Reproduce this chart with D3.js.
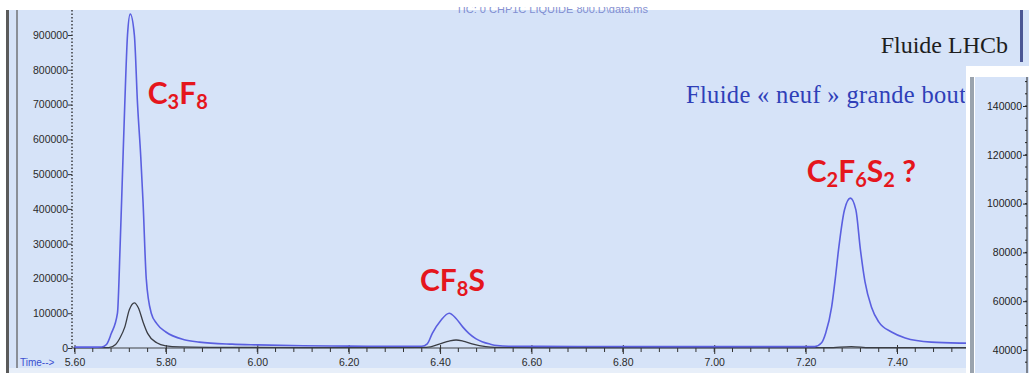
<!DOCTYPE html>
<html>
<head>
<meta charset="utf-8">
<script src="https://cdn.jsdelivr.net/npm/d3@7"></script>
<style>
  html, body { margin: 0; padding: 0; background: #ffffff; }
  svg { display: block; }
  .serif { font-family: "Liberation Serif", "Times New Roman", "DejaVu Serif", serif; }
  .sans { font-family: "Liberation Sans", Arial, sans-serif; }
</style>
</head>
<body>
<svg id="chart" width="1029" height="373"></svg>
<script>
// retention time (min) and abundance
const blueTimes = [5.60, 5.64, 5.66, 5.67, 5.68, 5.694, 5.70, 5.705, 5.71, 5.716, 5.722, 5.731, 5.738, 5.745, 5.750, 5.757, 5.768, 5.78, 5.80, 5.84, 5.873, 5.945, 6.00, 6.10, 6.20, 6.30, 6.36, 6.372, 6.383, 6.402, 6.420, 6.435, 6.450, 6.463, 6.478, 6.492, 6.51, 6.525, 6.55, 6.70, 6.90, 7.10, 7.22, 7.235, 7.244, 7.257, 7.265, 7.272, 7.285, 7.298, 7.31, 7.320, 7.33, 7.344, 7.36, 7.388, 7.418, 7.475, 7.541, 7.58];
const blueValues = [2500, 2500, 3000, 10000, 40000, 100000, 300000, 500000, 700000, 900000, 960000, 900000, 700000, 550000, 420000, 200000, 100000, 70000, 46000, 24000, 17000, 11000, 9000, 6500, 5500, 5000, 5000, 12000, 42000, 80000, 100000, 85000, 60000, 42000, 27000, 18000, 11000, 7000, 5000, 4500, 4000, 4000, 4000, 15000, 43000, 118000, 200000, 282000, 397000, 431000, 397000, 282000, 190000, 118000, 75000, 46000, 29000, 17000, 14000, 13500];

const blackTimes = [5.60, 5.675, 5.69, 5.70, 5.71, 5.72, 5.731, 5.74, 5.75, 5.76, 5.78, 5.80, 5.83, 5.90, 6.10, 6.37, 6.40, 6.42, 6.435, 6.45, 6.47, 6.50, 6.52, 6.70, 7.25, 7.30, 7.34, 7.58];
const blackValues = [800, 1000, 10000, 30000, 60000, 110000, 130000, 115000, 75000, 42000, 15000, 6000, 3000, 2000, 1200, 2000, 12000, 20000, 23000, 20000, 12000, 4000, 2000, 1000, 1000, 4000, 1000, 800];

const xTickLabels = [5.60, 5.80, 6.00, 6.20, 6.40, 6.60, 6.80, 7.00, 7.20, 7.40];
const yTickLabels = [0, 100000, 200000, 300000, 400000, 500000, 600000, 700000, 800000, 900000];
const insetTickLabels = [40000, 60000, 80000, 100000, 120000, 140000];

const peakNames = [
  [{ t: 'C', s: false }, { t: '3', s: true }, { t: 'F', s: false }, { t: '8', s: true }],
  [{ t: 'C', s: false }, { t: 'F', s: false }, { t: '8', s: true }, { t: 'S', s: false }],
  [{ t: 'C', s: false }, { t: '2', s: true }, { t: 'F', s: false }, { t: '6', s: true }, { t: 'S', s: false }, { t: '2', s: true }, { t: ' ?', s: false }]
];
const peakLabelTimes = [5.826, 6.427, 7.322];
const peakLabelValues = [702000, 164000, 478000];

const svg = d3.select('#chart');
const W = 1029, H = 373;

// frame and background
svg.append('rect').attr('x', 0).attr('y', 0).attr('width', W).attr('height', H).attr('fill', '#ffffff');
svg.append('rect').attr('x', 6).attr('y', 10).attr('width', W - 6).attr('height', H - 10).attr('fill', '#d6e3f8');
svg.append('rect').attr('x', 6).attr('y', 368).attr('width', W - 6).attr('height', 5).attr('fill', '#e8eff9');
svg.append('rect').attr('x', 6).attr('y', 10).attr('width', 3).attr('height', H - 10).attr('fill', '#5a5a5a');
svg.append('rect').attr('x', 16).attr('y', 10).attr('width', 2).attr('height', 358).attr('fill', '#8a8f98');

const defs = svg.append('defs');
defs.append('clipPath').attr('id', 'topclip')
  .append('rect').attr('x', 0).attr('y', 7).attr('width', W).attr('height', 20);
defs.append('clipPath').attr('id', 'legclip')
  .append('rect').attr('x', 0).attr('y', 60).attr('width', 965).attr('height', 60);

// faint header title, cut at the top edge
svg.append('text')
  .attr('class', 'sans')
  .attr('clip-path', 'url(#topclip)')
  .attr('x', 552).attr('y', 13)
  .attr('text-anchor', 'middle')
  .attr('font-size', 11)
  .attr('fill', '#6a78c8')
  .attr('opacity', 0.8)
  .text('TIC: 0 CHP1C LIQUIDE 800.D\\data.ms');

// scales
const x = d3.scaleLinear().domain([5.60, 7.40]).range([74.5, 897]);
const y = d3.scaleLinear().domain([0, 900000]).range([348, 35]);

// x axis
const xAxisG = svg.append('g').attr('transform', 'translate(0,348)');
xAxisG.append('line').attr('x1', 72).attr('x2', 990).attr('y1', 0).attr('y2', 0)
  .attr('stroke', '#707780').attr('stroke-width', 1.5);
const minorTicks = d3.range(0, 50).map(i => 5.60 + i * 0.04).filter(t => x(t) < 970);
xAxisG.selectAll('line.minor').data(minorTicks).join('line')
  .attr('class', 'minor')
  .attr('x1', d => x(d)).attr('x2', d => x(d))
  .attr('y1', 0).attr('y2', 4)
  .attr('stroke', '#333').attr('stroke-width', 1);
const xAxis = d3.axisBottom(x).tickValues(xTickLabels).tickFormat(d3.format('.2f')).tickSize(6);
xAxisG.call(xAxis);
xAxisG.attr('font-family', null);
xAxisG.select('.domain').remove();
xAxisG.selectAll('.tick line').attr('y1', -3).attr('stroke', '#333');
xAxisG.selectAll('.tick text')
  .attr('class', 'sans')
  .attr('dy', '0.9em')
  .attr('font-size', 10.5)
  .attr('fill', '#2a2a2a');

svg.append('text')
  .attr('class', 'sans')
  .attr('x', 20).attr('y', 366)
  .attr('font-size', 10)
  .attr('fill', '#3b4fd0')
  .text('Time-->');

// y axis
const yAxisG = svg.append('g').attr('transform', 'translate(72,0)');
yAxisG.append('line').attr('x1', 0).attr('x2', 0).attr('y1', 10).attr('y2', 348)
  .attr('stroke', '#222').attr('stroke-width', 1.3).attr('stroke-dasharray', '1.5,2');
const yAxis = d3.axisLeft(y).tickValues(yTickLabels).tickFormat(d3.format('d')).tickSize(4);
yAxisG.call(yAxis);
yAxisG.attr('font-family', null);
yAxisG.select('.domain').remove();
yAxisG.selectAll('.tick line').attr('stroke', '#333');
yAxisG.selectAll('.tick text')
  .attr('class', 'sans')
  .attr('x', -4)
  .attr('font-size', 10.5)
  .attr('fill', '#2a2a2a');

// traces
const line = d3.line()
  .x(d => x(d[0]))
  .y(d => y(d[1]))
  .curve(d3.curveMonotoneX);

const blackData = blackTimes.map((t, i) => [t, blackValues[i]]);
const blueData = blueTimes.map((t, i) => [t, blueValues[i]]);

svg.append('path').datum(blackData).attr('d', line)
  .attr('fill', 'none').attr('stroke', '#3a3d44').attr('stroke-width', 1.3);
svg.append('path').datum(blueData).attr('d', line)
  .attr('fill', 'none').attr('stroke', '#5a5fe0').attr('stroke-width', 1.6);

// compound labels, subscripts dropped by 5px
peakNames.forEach((parts, i) => {
  const t = svg.append('text')
    .attr('x', x(peakLabelTimes[i])).attr('y', y(peakLabelValues[i]))
    .attr('text-anchor', 'middle')
    .attr('font-family', 'Lato, "Open Sans", sans-serif')
    .attr('font-weight', 'bold')
    .attr('font-size', 30)
    .attr('fill', '#e5161d');
  let shifted = false;
  parts.forEach(p => {
    let dy = 0;
    if (p.s && !shifted) { dy = 5; shifted = true; }
    else if (!p.s && shifted) { dy = -5; shifted = false; }
    t.append('tspan')
      .attr('font-size', p.s ? 20 : 30)
      .attr('dy', dy)
      .text(p.t);
  });
});

// legend text
svg.append('text')
  .attr('class', 'serif')
  .attr('x', 1008).attr('y', 53)
  .attr('text-anchor', 'end')
  .attr('font-size', 24)
  .attr('fill', '#1e1e1e')
  .text('Fluide LHCb');
svg.append('rect').attr('x', 1020).attr('y', 10).attr('width', 3).attr('height', 52).attr('fill', '#4b5694');

svg.append('text')
  .attr('class', 'serif')
  .attr('clip-path', 'url(#legclip)')
  .attr('x', 686).attr('y', 103)
  .attr('font-size', 24.5)
  .attr('textLength', 280)
  .attr('lengthAdjust', 'spacing')
  .attr('fill', '#2f3fb8')
  .text('Fluide « neuf » grande bout');

// inset panel with second axis (overlaid screenshot)
const inset = svg.append('g');
inset.append('rect').attr('x', 966).attr('y', 66).attr('width', W - 966).attr('height', H - 66).attr('fill', '#ffffff');
inset.append('rect').attr('x', 975).attr('y', 77).attr('width', W - 975).attr('height', H - 77).attr('fill', '#d6e3f8');
inset.append('rect').attr('x', 970).attr('y', 77).attr('width', 4).attr('height', H - 77).attr('fill', '#9aa3ad');

const y2 = d3.scaleLinear().domain([40000, 140000]).range([350, 106]);
const insetAxisG = inset.append('g').attr('transform', 'translate(1027,0)');
insetAxisG.append('line').attr('x1', 0).attr('x2', 0).attr('y1', 77).attr('y2', H)
  .attr('stroke', '#222').attr('stroke-width', 1);
const insetMinor = d3.range(30000, 155000, 5000).filter(v => y2(v) > 78 && y2(v) < H);
insetAxisG.selectAll('line.minor').data(insetMinor).join('line')
  .attr('class', 'minor')
  .attr('x1', -2).attr('x2', 0)
  .attr('y1', d => y2(d)).attr('y2', d => y2(d))
  .attr('stroke', '#222');
const insetAxis = d3.axisLeft(y2).tickValues(insetTickLabels).tickFormat(d3.format('d')).tickSize(4);
insetAxisG.call(insetAxis);
insetAxisG.attr('font-family', null);
insetAxisG.select('.domain').remove();
insetAxisG.selectAll('.tick line').attr('stroke', '#222');
insetAxisG.selectAll('.tick text')
  .attr('class', 'sans')
  .attr('x', -5)
  .attr('font-size', 10.5)
  .attr('fill', '#1e1e1e');
</script>
</body>
</html>
